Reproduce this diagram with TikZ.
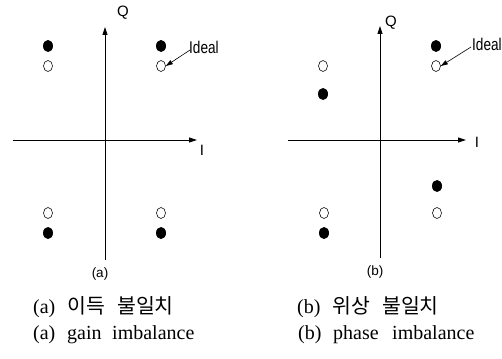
\documentclass[tikz,border=0pt]{standalone}
\usepackage{fontspec}
\setmainfont{Liberation Serif}
\newfontfamily\cjk{Noto Sans CJK KR}
\newfontfamily\arialf{Liberation Sans}
\newfontfamily\arialn[FakeStretch=0.8]{Liberation Sans}
\usetikzlibrary{arrows.meta,shapes.geometric}
\begin{document}
\begin{tikzpicture}[x=1pt,y=-1pt,
  axis/.style={line width=0.8pt,-{Triangle[length=8pt,width=5pt]}},
  fdot/.style={ellipse,fill=black,draw=none,minimum width=10pt,minimum height=12pt,inner sep=0pt},
  odot/.style={ellipse,draw=black,line width=0.6pt,minimum width=9pt,minimum height=11pt,inner sep=0pt},
  lbl/.style={font=\arialf\fontsize{15}{15}\selectfont,inner sep=0pt},
  plbl/.style={font=\arialf\fontsize{13.5}{13.5}\selectfont,inner sep=0pt},
  idl/.style={font=\arialn\fontsize{17}{17}\selectfont,inner sep=0pt,anchor=west},
  captxt/.style={font=\fontsize{20}{20}\selectfont,inner sep=0pt,anchor=base west},
  kcaptxt/.style={font=\cjk\fontsize{20.5}{20.5}\selectfont,inner sep=0pt,anchor=base west},
  idarrow/.style={line width=0.6pt,-{Triangle[length=7pt,width=4.5pt]}}]
\useasboundingbox (0,0) rectangle (502,358);
% ---------- panel (a) ----------
\coordinate (aL) at (13,140);
\coordinate (aR) at (197,140);
\coordinate (aB) at (105,260);
\coordinate (aT) at (105,27);
\draw[axis] (aL) -- (aR);
\draw[axis] (aB) -- (aT);
\node[lbl] (aQ) at (123,13) {Q};
\node[lbl] (aI) at (202,150) {I};
\node[plbl] (alab) at (100,274) {(a)};
\node[fdot] (a1) at (48,46) {};
\node[odot] (a2) at (48,66) {};
\node[fdot] (a3) at (161,46) {};
\node[odot] (a4) at (161,66) {};
\node[odot] (a5) at (48,213) {};
\node[fdot] (a6) at (48,233) {};
\node[odot] (a7) at (161,213) {};
\node[fdot] (a8) at (161,233) {};
\node[idl] (aid) at (189,47) {Ideal};
\draw[idarrow] (aid.west) ++(1,3) -- (a4.east);
% ---------- panel (b) ----------
\coordinate (bL) at (288,140);
\coordinate (bR) at (466,140);
\coordinate (bB) at (380,258);
\coordinate (bT) at (380,26);
\draw[axis] (bL) -- (bR);
\draw[axis] (bB) -- (bT);
\node[lbl] (bQ) at (391,23) {Q};
\node[lbl] (bI) at (477,142) {I};
\node[plbl] (blab) at (375,272) {(b)};
\node[fdot] (b1) at (436,46) {};
\node[odot] (b2) at (436,66) {};
\node[odot] (b3) at (323,66) {};
\node[fdot] (b4) at (323,94) {};
\node[fdot] (b5) at (437,186) {};
\node[odot] (b6) at (437,213) {};
\node[odot] (b7) at (324,213) {};
\node[fdot] (b8) at (324,233) {};
\node[idl] (bid) at (472,44) {Ideal};
\draw[idarrow] (bid.west) ++(-1,3) -- (b2.east);
% ---------- captions ----------
\node[captxt] (c1a) at (33,313) {(a)};
\node[kcaptxt] (c1b) at (67,313) {이득};
\node[kcaptxt] (c1c) at (117,313) {불일치};
\node[captxt] (c2a) at (297,313) {(b)};
\node[kcaptxt] (c2b) at (332,313) {위상};
\node[kcaptxt] (c2c) at (382,313) {불일치};
\node[captxt] (c3a) at (33,339) {(a)};
\node[captxt] (c3b) at (67,339) {gain};
\node[captxt] (c3c) at (112,339) {imbalance};
\node[captxt] (c4a) at (298,339) {(b)};
\node[captxt] (c4b) at (333,339) {phase};
\node[captxt] (c4c) at (392,339) {imbalance};
\end{tikzpicture}
\end{document}
